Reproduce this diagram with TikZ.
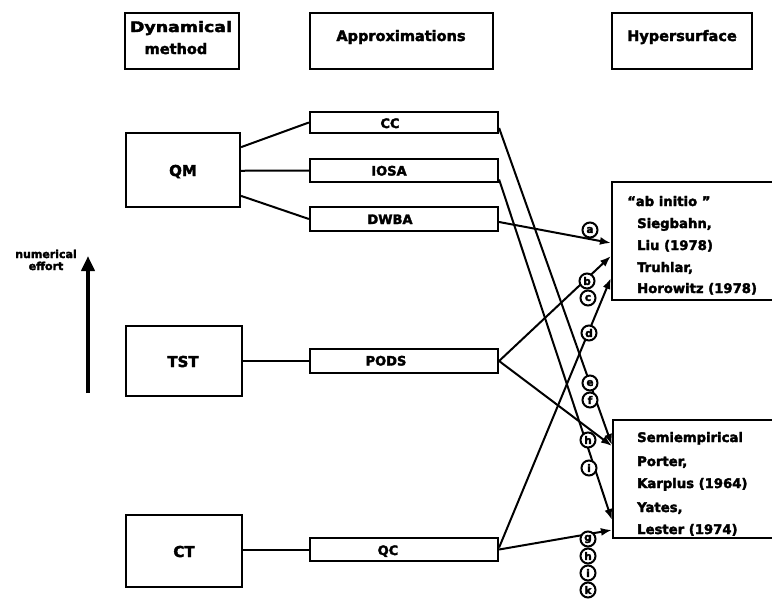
\documentclass[tikz,border=0pt]{standalone}
\usepackage{fontspec}
\setmainfont{DejaVu Sans}[BoldFeatures={FakeBold=2.5}]
\usepackage{graphicx}
\usetikzlibrary{calc,arrows.meta}
\begin{document}
\begin{tikzpicture}[x=1pt,y=-1pt,
  box/.style={draw, line width=2.2pt, inner sep=0pt},
  conn/.style={line width=2pt},
  arr/.style={line width=2pt, -{Latex[length=11pt,width=8pt]}},
  lbl/.style={draw, circle, line width=2pt, minimum size=15pt, inner sep=0pt, font=\fontsize{10.5}{10.5}\selectfont\bfseries},
  head/.style={anchor=base, inner sep=0pt, font=\fontsize{14.5}{16}\selectfont\bfseries},
  meth/.style={anchor=base, inner sep=0pt, font=\fontsize{15}{16}\selectfont\bfseries},
  appr/.style={anchor=base, inner sep=0pt, font=\fontsize{13}{14}\selectfont\bfseries},
  refl/.style={anchor=base west, inner sep=0pt, font=\fontsize{13.2}{14}\selectfont\bfseries},
  small/.style={anchor=base, inner sep=0pt, font=\fontsize{11}{12}\selectfont\bfseries},
]
\useasboundingbox (0,0) rectangle (772,600);

% headers
\node[box, minimum width=114, minimum height=56] (hdyn) at (182,41) {};
\node[head] (tdyn) at (181,32) {\scalebox{1.2}[1]{Dynamical}};
\node[head] (tmeth) at (176,54) {method};
\node[box, minimum width=183, minimum height=56] (happ) at (401.5,41) {};
\node[head] (tapp) at (401,41) {Approximations};
\node[box, minimum width=140, minimum height=56] (hhyp) at (682,41) {};
\node[head] (thyp) at (682,41) {Hypersurface};

% dynamical methods
\node[box, minimum width=114, minimum height=74] (QM) at (183,170) {};
\node[meth] (tQM) at (183,176) {QM};
\node[box, minimum width=116, minimum height=70] (TST) at (184,361) {};
\node[meth] (tTST) at (183,367) {TST};
\node[box, minimum width=116, minimum height=72] (CT) at (184,551) {};
\node[meth] (tCT) at (184,557) {CT};

% approximations
\node[box, minimum width=188, minimum height=21] (CC) at (404,122.5) {};
\node[appr] (tCC) at (390,128) {CC};
\node[box, minimum width=188, minimum height=23] (IOSA) at (404,170.5) {};
\node[appr] (tIOSA) at (389,175.5) {IOSA};
\node[box, minimum width=188, minimum height=24] (DWBA) at (404,219) {};
\node[appr] (tDWBA) at (390,224) {DWBA};
\node[box, minimum width=188, minimum height=24] (PODS) at (404,361) {};
\node[appr] (tPODS) at (386,365.5) {PODS};
\node[box, minimum width=188, minimum height=23] (QC) at (404,549.5) {};
\node[appr] (tQC) at (388,555) {QC};

% hypersurfaces
\node[box, minimum width=170, minimum height=118] (AI) at (697,241) {};
\node[refl] (ai0) at (627,206) {“ab initio ”};
\node[refl] (ai1) at (637,228) {Siegbahn,};
\node[refl] (ai2) at (637,250) {Liu (1978)};
\node[refl] (ai3) at (637,272) {Truhlar,};
\node[refl] (ai4) at (637,293) {Horowitz (1978)};
\node[box, minimum width=170, minimum height=118] (SE) at (698,479) {};
\node[refl] (se0) at (637,442) {Semiempirical};
\node[refl] (se1) at (637,466) {Porter,};
\node[refl] (se2) at (637,488) {Karplus (1964)};
\node[refl] (se3) at (637,512) {Yates,};
\node[refl] (se4) at (637,534) {Lester (1974)};

% numerical effort arrow
\node[small] (ne1) at (46,258) {numerical};
\node[small] (ne2) at (46,270) {effort};
\coordinate (effbot) at (88,393);
\coordinate (efftop) at (88,256);
\draw[line width=4pt, -{Triangle[length=15pt,width=13pt]}] (effbot) -- (efftop);

% method -> approximation
\draw[conn] ($(QM.north east)!0.2!(QM.south east)$) -- (CC.west);
\draw[conn] ($(QM.north east)!0.51!(QM.south east)$) -- (IOSA.west);
\draw[conn] ($(QM.north east)!0.84!(QM.south east)$) -- (DWBA.west);
\draw[conn] (TST.east) -- (PODS.west);
\draw[conn] ($(CT.east)+(0,-1.5)$) -- (QC.west);

% approximation -> hypersurface
\draw[arr] ($(DWBA.east)+(0,3)$) -- ($(AI.west)+(0,2)$);
\draw[arr] (PODS.east) -- ($(AI.west)+(0,15)$);
\draw[arr] ($(QC.east)+(0,-2)$) -- ($(AI.west)+(0,37)$);
\draw[arr] ($(CC.east)+(0,5.5)$) -- ($(SE.west)+(0,-34)$);
\draw[arr] (PODS.east) -- ($(SE.west)+(0,-33)$);
\draw[arr] ($(IOSA.east)+(0,9)$) -- ($(SE.west)+(0,41)$);
\draw[arr] ($(QC.east)+(0,0)$) -- ($(SE.west)+(0,51)$);

% circled letters
\node[lbl, fill=white] (la) at (590,230) {a};
\node[lbl, fill=white] (lb) at (587,281) {b};
\node[lbl, fill=white] (lc) at (588,298) {c};
\node[lbl, fill=white] (ld) at (589,333) {d};
\node[lbl, fill=white] (le) at (590,383) {e};
\node[lbl, fill=white] (lf) at (590,400) {f};
\node[lbl, fill=white] (lh) at (588,440) {h};
\node[lbl, fill=white] (li) at (589,468) {i};
\node[lbl, fill=white] (lg2) at (588,539) {g};
\node[lbl, fill=white] (lh2) at (588,556) {h};
\node[lbl, fill=white] (li2) at (588,573) {i};
\node[lbl, fill=white] (lk2) at (588,590) {k};
\end{tikzpicture}
\end{document}
